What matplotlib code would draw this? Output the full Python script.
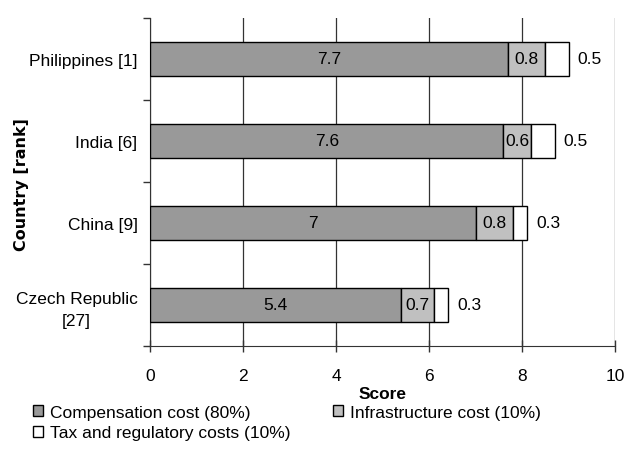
import matplotlib
matplotlib.use("Agg")
import matplotlib.pyplot as plt
import numpy as np

countries = ["Philippines [1]", "India [6]", "China [9]", "Czech Republic\n[27]"]
compensation = [7.7, 7.6, 7.0, 5.4]
infrastructure = [0.8, 0.6, 0.8, 0.7]
tax = [0.5, 0.5, 0.3, 0.3]
comp_labels = ["7.7", "7.6", "7", "5.4"]
infra_labels = ["0.8", "0.6", "0.8", "0.7"]
tax_labels = ["0.5", "0.5", "0.3", "0.3"]
xticks = [0, 2, 4, 6, 8, 10]

plt.rcParams['font.family'] = ['Liberation Sans', 'DejaVu Sans']

fig = plt.figure(figsize=(6.32, 4.64), dpi=100)
ax = fig.add_axes([150/632, 1-347/464, 465/632, 328/464])

n = len(countries)
y = np.arange(n)[::-1].astype(float)  # top first
h = 0.41
fs = 12.5

comp = np.array(compensation)
inf_ = np.array(infrastructure)
tx = np.array(tax)

b1 = ax.barh(y, comp, height=h, color="#999999", edgecolor="black", linewidth=1.0,
             label="Compensation cost (80%)", zorder=3)
b2 = ax.barh(y, inf_, left=comp, height=h, color="#c0c0c0", edgecolor="black", linewidth=1.0,
             label="Infrastructure cost (10%)", zorder=3)
b3 = ax.barh(y, tx, left=comp + inf_, height=h, color="white", edgecolor="black", linewidth=1.0,
             label="Tax and regulatory costs (10%)", zorder=3)

for i in range(n):
    ax.text(comp[i] / 2, y[i], comp_labels[i], ha="center", va="center", fontsize=fs, zorder=4)
    ax.text(comp[i] + inf_[i] / 2, y[i], infra_labels[i], ha="center", va="center", fontsize=fs, zorder=4)
    ax.text(comp[i] + inf_[i] + tx[i] + 0.2, y[i], tax_labels[i], ha="left", va="center", fontsize=fs, zorder=4)

ax.set_xlim(0, 10)
ax.set_ylim(-0.5, n - 0.5)
ax.set_xticks(xticks)
ax.set_xticklabels([str(t) for t in xticks], fontsize=fs)
ax.tick_params(axis="x", direction="inout", length=8, width=1, pad=12, color="#333333")
ax.set_yticks(y)
ax.set_yticklabels(countries, fontsize=fs)
ax.tick_params(axis="y", which="major", length=0, pad=9)
ax.set_yticks(np.arange(-0.5, n, 1.0), minor=True)
ax.tick_params(axis="y", which="minor", length=5, width=1, direction="out", color="#333333")
for lbl in ax.get_yticklabels():
    lbl.set_multialignment("center")
    lbl.set_linespacing(1.55)

ax.grid(axis="x", color="#333333", linewidth=0.9, zorder=0)
ax.spines["top"].set_visible(False)
ax.spines["right"].set_visible(False)
ax.spines["left"].set_color("#333333")
ax.spines["bottom"].set_color("#333333")

ax.set_xlabel("Score", fontsize=12.5, fontweight="bold", labelpad=2)
fig.text(22/632, 1-185/464, "Country [rank]", rotation=90, ha="center", va="center",
         fontsize=11.5, fontweight="bold", family="DejaVu Sans")

handles = [b1, b3, b2]
labels = ["Compensation cost (80%)", "Tax and regulatory costs (10%)", "Infrastructure cost (10%)"]
leg = fig.legend(handles, labels, ncol=2, loc="upper left", bbox_to_anchor=(33/632, 1-406/464),
                 frameon=False, fontsize=fs, handlelength=0.6, handleheight=0.6,
                 handletextpad=0.4, columnspacing=2.4, labelspacing=0.3, borderaxespad=0,
                 borderpad=0)

fig.savefig("out.png", dpi=100)
